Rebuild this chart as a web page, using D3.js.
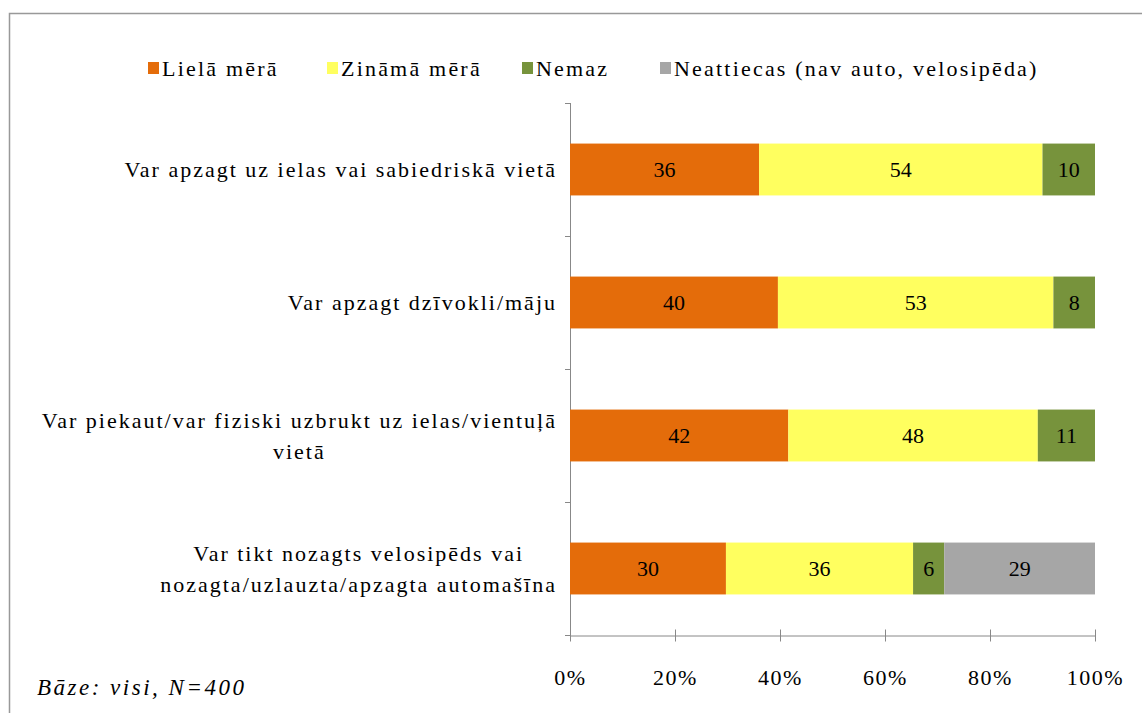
<!DOCTYPE html>
<html lang="lv">
<head>
<meta charset="utf-8">
<title>Apdraudējums</title>
<style>
  body { margin: 0; background: #fff; }
  svg text { font-family: "Liberation Serif", Tinos, "Times New Roman", Times, "Noto Serif", "DejaVu Serif", FreeSerif, serif !important; fill: #000; }
  .axis path, .axis line { stroke: #888; }
</style>
</head>
<body>
<div id="container"></div>
<script src="https://cdn.jsdelivr.net/npm/d3@7"></script>
<script>
var width = 1142, height = 713;

// ------ data ------
var categories = [
  ["Var apzagt uz ielas vai sabiedriskā vietā"],
  ["Var apzagt dzīvokli/māju"],
  ["Var piekaut/var fiziski uzbrukt uz ielas/vientuļā", "vietā"],
  ["Var tikt nozagts velosipēds vai", "nozagta/uzlauzta/apzagta automašīna"]
];
var seriesNames = ["Lielā mērā", "Zināmā mērā", "Nemaz", "Neattiecas (nav auto, velosipēda)"];
var lielaMera   = [36, 40, 42, 30];
var zinamaMera  = [54, 53, 48, 36];
var nemaz       = [10, 8, 11, 6];
var neattiecas  = [0, 0, 0, 29];
var xTicks = [0, 0.2, 0.4, 0.6, 0.8, 1];
var colors = ["#e46c0a", "#ffff5f", "#77933c", "#a6a6a6"];

var series = [lielaMera, zinamaMera, nemaz, neattiecas];

// build rows, normalised to 100%
var rows = categories.map(function(c, i) {
  var total = d3.sum(series, function(s) { return s[i]; });
  var x0 = 0;
  var segs = series.map(function(s, k) {
    var seg = { k: k, i: i, v: s[i], x0: x0 / total, x1: (x0 + s[i]) / total };
    x0 += s[i];
    return seg;
  }).filter(function(d) { return d.v > 0; });
  return { i: i, label: c, segs: segs };
});

var svg = d3.select("#container").append("svg")
    .attr("width", width)
    .attr("height", height);

// frame
svg.append("path")
    .attr("d", "M9.5," + height + "V13.5H" + width)
    .attr("fill", "none")
    .attr("stroke", "#999")
    .attr("stroke-width", 1.5);

var plotL = 570, plotR = 1095, plotT = 103, plotB = 635;

var x = d3.scaleLinear().domain([0, 1]).range([plotL, plotR]);
var y = d3.scaleBand().domain(d3.range(categories.length)).range([plotT, plotB]).paddingInner(0.61).paddingOuter(0.305);
var step = (plotB - plotT) / categories.length;

// y axis line + ticks at band borders
svg.append("line").attr("x1", plotL + 0.5).attr("x2", plotL + 0.5).attr("y1", plotT).attr("y2", plotB)
    .attr("stroke", "#888");
svg.selectAll(".ytick").data(d3.range(categories.length + 1)).enter().append("line")
    .attr("x1", plotL - 5).attr("x2", plotL)
    .attr("y1", function(d) { return Math.round(plotT + d * step) + 0.5; })
    .attr("y2", function(d) { return Math.round(plotT + d * step) + 0.5; })
    .attr("stroke", "#888");

// x axis
var xAxis = svg.append("g").attr("class", "axis")
    .attr("transform", "translate(0," + (plotB + 0.5) + ")")
    .call(d3.axisBottom(x).tickValues(xTicks).tickFormat(d3.format(".0%")).tickSize(6).tickSizeOuter(0));
xAxis.selectAll("line").attr("y1", -6).attr("y2", 6);
xAxis.selectAll("text").attr("dy", "0").attr("y", 49)
    .style("font-size", "22px").style("letter-spacing", "1.5px");

// bars
var g = svg.selectAll(".row").data(rows).enter().append("g")
    .attr("class", "row");
g.selectAll("rect").data(function(d) { return d.segs; })
  .enter().append("rect")
    .attr("x", function(d) { return x(d.x0); })
    .attr("width", function(d) { return x(d.x1) - x(d.x0); })
    .attr("y", function(d) { return y(d.i); })
    .attr("height", y.bandwidth())
    .attr("fill", function(d) { return colors[d.k]; });
g.selectAll(".val").data(function(d) { return d.segs; })
  .enter().append("text")
    .attr("class", "val")
    .attr("x", function(d) { return (x(d.x0) + x(d.x1)) / 2; })
    .attr("y", function(d) { return y(d.i) + y.bandwidth() / 2; })
    .attr("dy", "0.35em")
    .attr("text-anchor", "middle")
    .style("font-size", "22px")
    .text(function(d) { return d.v; });

// category labels: lines centred in a block whose right edge is at labelR
var labelR = 557;
svg.selectAll(".cat").data(rows).enter().append("text")
    .attr("class", "cat")
    .attr("text-anchor", "middle")
    .style("font-size", "22px")
    .style("letter-spacing", "2px")
    .each(function(d) {
      var t = d3.select(this);
      var cy = y(d.i) + y.bandwidth() / 2;
      var n = d.label.length;
      var spans = d.label.map(function(line, j) {
        return t.append("tspan")
          .attr("y", cy + (j - (n - 1) / 2) * 31)
          .attr("dy", "0.35em")
          .text(line);
      });
      var maxW = d3.max(spans, function(s) { return s.node().getComputedTextLength(); });
      spans.forEach(function(s) { s.attr("x", labelR - maxW / 2); });
    });

// legend
var legX = [148, 327, 522, 660];
var leg = svg.selectAll(".leg").data(seriesNames).enter().append("g")
    .attr("transform", function(d, i) { return "translate(" + legX[i] + ",68)"; });
leg.append("rect").attr("x", 0).attr("y", -6).attr("width", 11).attr("height", 12)
    .attr("fill", function(d, i) { return colors[i]; });
leg.append("text").attr("x", 14).attr("dy", "0.35em")
    .style("font-size", "22px").style("letter-spacing", "2.2px")
    .text(function(d) { return d; });

// footnote
svg.append("text").attr("x", 37).attr("y", 695)
    .style("font-size", "23px").style("font-style", "italic").style("letter-spacing", "2.5px")
    .text("Bāze: visi, N=400");
</script>
</body>
</html>
